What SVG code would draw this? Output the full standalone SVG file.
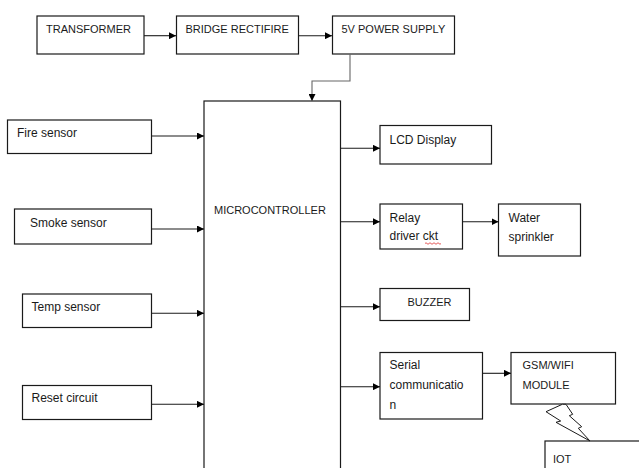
<svg xmlns="http://www.w3.org/2000/svg" width="639" height="468" viewBox="0 0 639 468">
<style>
.box{fill:#fff;stroke:#1a1a1a;stroke-width:1.2}
.t{font-family:"Liberation Sans",Arial,sans-serif;font-size:12px;fill:#1a1a1a}
.c{font-size:11px}
.ln{fill:none;stroke:#1a1a1a;stroke-width:1.1}
.g{stroke:#666}
</style>
<defs>
<marker id="ah" viewBox="0 0 10 10" refX="10" refY="5" markerWidth="7" markerHeight="7" markerUnits="userSpaceOnUse" orient="auto">
<path d="M0,0 L10,5 L0,10 Z" fill="#000"/>
</marker>
</defs>
<rect width="639" height="468" fill="#fff"/>
<g id="transformer"><rect class="box" x="37" y="16" width="107" height="38"/><text class="t c" x="46" y="33">TRANSFORMER</text></g>
<g id="bridge"><rect class="box" x="176.5" y="16" width="122" height="38"/><text class="t c" x="185.5" y="33">BRIDGE RECTIFIRE</text></g>
<g id="psu"><rect class="box" x="332.5" y="16" width="122" height="38"/><text class="t c" x="341.5" y="33">5V POWER SUPPLY</text></g>
<g id="micro"><rect class="box" x="204" y="101" width="136.5" height="380"/><text class="t c" x="214" y="214">MICROCONTROLLER</text></g>
<g id="fire"><rect class="box" x="7.5" y="120" width="144" height="33.5"/><text class="t" x="17" y="137">Fire sensor</text></g>
<g id="smoke"><rect class="box" x="14.5" y="209" width="137" height="35"/><text class="t" x="30" y="227">Smoke sensor</text></g>
<g id="temp"><rect class="box" x="22.5" y="294" width="129" height="33.5"/><text class="t" x="31.5" y="311">Temp sensor</text></g>
<g id="reset"><rect class="box" x="22.5" y="385.5" width="129" height="34"/><text class="t" x="31.5" y="402">Reset circuit</text></g>
<g id="lcd"><rect class="box" x="380" y="125.5" width="111.5" height="38.5"/><text class="t" x="389.5" y="143.5">LCD Display</text></g>
<g id="relay"><rect class="box" x="380" y="204" width="82.5" height="45"/><text class="t" x="389.5" y="222">Relay</text><text class="t" x="389.5" y="240">driver ckt</text><path d="M425,243.5 q1,-1.5 2,0 t2,0 t2,0 t2,0 t2,0 t2,0 t2,0 t2,0" fill="none" stroke="#d33" stroke-width="0.8"/></g>
<g id="water"><rect class="box" x="498.5" y="204" width="82" height="52"/><text class="t" x="508.5" y="222">Water</text><text class="t" x="508.5" y="240.5">sprinkler</text></g>
<g id="buzzer"><rect class="box" x="380" y="288.5" width="89.5" height="32"/><text class="t c" x="407.5" y="306">BUZZER</text></g>
<g id="serial"><rect class="box" x="380" y="352.5" width="102.5" height="66.5"/><text class="t" x="389.5" y="368.5">Serial</text><text class="t" x="389.5" y="388.5">communicatio</text><text class="t" x="389.5" y="408.5">n</text></g>
<g id="gsm"><rect class="box" x="511" y="352.5" width="104.5" height="51.5"/><text class="t c" x="522.5" y="368.5">GSM/WIFI</text><text class="t c" x="522.5" y="388.5">MODULE</text></g>
<g id="iot"><rect class="box" x="545" y="441" width="100" height="40"/><text class="t c" x="553" y="462.5">IOT</text></g>
<g id="connectors">
<path class="ln" d="M144,35.7 H176" marker-end="url(#ah)"/>
<path class="ln" d="M298.5,35.7 H332" marker-end="url(#ah)"/>
<path class="ln g" d="M350,54 V81 H312 V101" marker-end="url(#ah)"/>
<path class="ln" d="M151.5,136 H204" marker-end="url(#ah)"/>
<path class="ln" d="M151.5,229 H204" marker-end="url(#ah)"/>
<path class="ln" d="M151.5,313.3 H204" marker-end="url(#ah)"/>
<path class="ln" d="M151.5,404.3 H204" marker-end="url(#ah)"/>
<path class="ln" d="M340.5,148.3 H380" marker-end="url(#ah)"/>
<path class="ln" d="M340.5,221.7 H380" marker-end="url(#ah)"/>
<path class="ln" d="M462.5,221.7 H498.5" marker-end="url(#ah)"/>
<path class="ln" d="M340.5,306.7 H380" marker-end="url(#ah)"/>
<path class="ln" d="M340.5,386.7 H380" marker-end="url(#ah)"/>
<path class="ln" d="M482.5,373.3 H511" marker-end="url(#ah)"/>
<polygon points="562.3,404.3 546,411.7 560.7,421 556,422.3 590,441 578.3,428.3 581.7,426.7 569.3,415.7 572.7,414.3 566,404.3" fill="#fff" stroke="#1a1a1a" stroke-width="1"/>
</g>
</svg>
